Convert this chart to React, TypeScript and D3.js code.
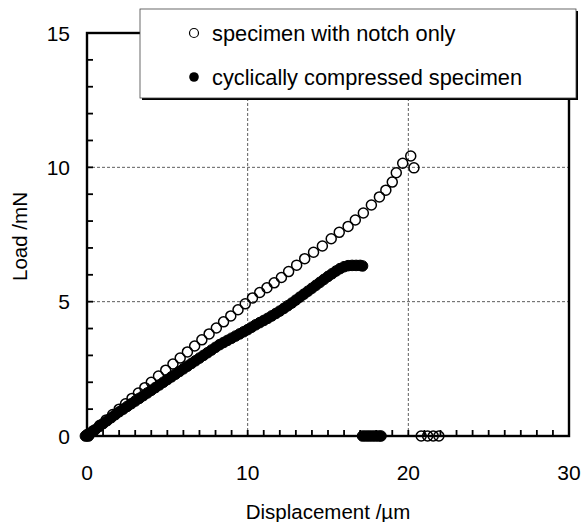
import React from "react";
import * as d3 from "d3";

// ---- data ----
const notchX = [0, 0.4, 0.8, 1.2, 1.6, 2.0, 2.4, 2.8, 3.2, 3.6, 4.0, 4.45, 4.9, 5.35, 5.8, 6.25, 6.7, 7.15, 7.6, 8.05, 8.5, 8.95, 9.4, 9.85, 10.3, 10.75, 11.2, 11.65, 12.1, 12.55, 13.05, 13.55, 14.1, 14.65, 15.2, 15.7, 16.25, 16.7, 17.2, 17.7, 18.2, 18.6, 19.0, 19.25, 19.65, 20.15, 20.35, 20.8, 21.2, 21.55, 21.9];
const notchY = [0, 0.2, 0.4, 0.6, 0.8, 1.0, 1.2, 1.4, 1.6, 1.8, 2.0, 2.23, 2.45, 2.68, 2.9, 3.13, 3.35, 3.58, 3.8, 4.02, 4.25, 4.47, 4.7, 4.92, 5.14, 5.34, 5.52, 5.7, 5.9, 6.12, 6.36, 6.6, 6.84, 7.07, 7.34, 7.58, 7.8, 8.04, 8.3, 8.6, 8.9, 9.15, 9.45, 9.8, 10.15, 10.42, 9.98, 0, 0, 0, 0];

const cycX = [-0.1, 0, 0.1, 0.25, 0.5, 0.75, 1.0, 1.25, 1.5, 1.75, 2.0, 2.25, 2.5, 2.75, 3.0, 3.25, 3.5, 3.75, 4.0, 4.25, 4.5, 4.75, 5.0, 5.25, 5.5, 5.75, 6.0, 6.25, 6.5, 6.75, 7.0, 7.25, 7.5, 7.75, 8.0, 8.25, 8.5, 8.75, 9.0, 9.25, 9.5, 9.75, 10.0, 10.25, 10.5, 10.75, 11.0, 11.25, 11.5, 11.75, 12.0, 12.25, 12.5, 12.75, 13.0, 13.25, 13.5, 13.75, 14.0, 14.25, 14.5, 14.75, 15.0, 15.25, 15.5, 15.75, 16.0, 16.25, 16.5, 16.75, 17.0, 17.15, 17.15, 17.35, 17.55, 17.75, 17.95, 18.15, 18.3];
const cycY = [0, 0.05, 0, 0.12, 0.23, 0.35, 0.46, 0.57, 0.68, 0.79, 0.9, 1.0, 1.1, 1.2, 1.3, 1.4, 1.5, 1.6, 1.7, 1.8, 1.9, 2.0, 2.1, 2.2, 2.3, 2.4, 2.5, 2.6, 2.7, 2.8, 2.9, 3.0, 3.1, 3.2, 3.3, 3.4, 3.48, 3.56, 3.64, 3.72, 3.8, 3.88, 3.96, 4.05, 4.14, 4.22, 4.3, 4.38, 4.47, 4.56, 4.65, 4.75, 4.85, 4.95, 5.06, 5.17, 5.28, 5.39, 5.5, 5.61, 5.72, 5.83, 5.94, 6.04, 6.14, 6.23, 6.3, 6.34, 6.35, 6.35, 6.35, 6.33, 0, 0, 0, 0, 0, 0, 0];

const xTicks = [0, 10, 20, 30];
const yTicks = [0, 5, 10, 15];
const legendLabels = ["specimen with notch only", "cyclically compressed specimen"];
const xTitle = "Displacement /\u00b5m";
const yTitle = "Load /mN";

const FONT = "'Liberation Sans', Arial, Helvetica, sans-serif";

export default function App() {
  const W = 585, H = 522;
  const L = 87, R = 569, T = 33, B = 436;
  const x = d3.scaleLinear().domain([0, 30]).range([L, R]);
  const y = d3.scaleLinear().domain([0, 15]).range([B, T]);
  const minorX = d3.range(0, 31, 1);
  const minorY = d3.range(0, 16, 1);
  const tick = 6;

  return (
    <svg width={W} height={H} viewBox={`0 0 ${W} ${H}`}
      style={{ position: "absolute", left: 0, top: 0, display: "block", background: "#fff" }}>
      {/* grid */}
      {[10, 20].map((v) => (
        <line key={"gx" + v} x1={x(v)} x2={x(v)} y1={T} y2={B} stroke="#333" strokeWidth={0.8} strokeDasharray="3,2" />
      ))}
      {[5, 10].map((v) => (
        <line key={"gy" + v} x1={L} x2={R} y1={y(v)} y2={y(v)} stroke="#333" strokeWidth={0.8} strokeDasharray="3,2" />
      ))}
      {/* minor ticks inward */}
      {minorX.map((v) => (
        <line key={"tx" + v} x1={x(v)} x2={x(v)} y1={B} y2={B - tick} stroke="#000" strokeWidth={1.8} />
      ))}
      {minorY.map((v) => (
        <line key={"ty" + v} x1={L} x2={L + tick} y1={y(v)} y2={y(v)} stroke="#000" strokeWidth={1.8} />
      ))}
      {/* frame */}
      <rect x={L} y={T} width={R - L} height={B - T} fill="none" stroke="#000" strokeWidth={2.4} />

      {/* filled series */}
      {cycX.map((v, i) => (
        <circle key={"c" + i} cx={x(v)} cy={y(cycY[i])} r={5.3} fill="#000" stroke="#000" strokeWidth={1} />
      ))}
      {/* open series */}
      {notchX.map((v, i) => (
        <circle key={"n" + i} cx={x(v)} cy={y(notchY[i])} r={5} fill="none" stroke="#000" strokeWidth={1.5} />
      ))}

      {/* tick labels */}
      {xTicks.map((v) => (
        <text key={"lx" + v} x={x(v)} y={480} textAnchor="middle" fontFamily={FONT} fontSize={21} fill="#000">{v}</text>
      ))}
      {yTicks.map((v) => (
        <text key={"ly" + v} x={70} y={y(v) + 7.5} textAnchor="end" fontFamily={FONT} fontSize={21} fill="#000">{v}</text>
      ))}
      {/* axis titles */}
      <text x={(L + R) / 2} y={519} textAnchor="middle" fontFamily={FONT} fontSize={20.5} fill="#000">{xTitle}</text>
      <text transform={`translate(27,${(T + B) / 2 + 2}) rotate(-90)`} textAnchor="middle" fontFamily={FONT} fontSize={20.5} fill="#000">{yTitle}</text>

      {/* legend */}
      <g>
        <rect x={142} y={11} width={436} height={89} fill="#000" />
        <rect x={140} y={9} width={436} height={89} fill="#fff" stroke="#444" strokeWidth={0.8} />
        <circle cx={194} cy={33} r={4.5} fill="none" stroke="#000" strokeWidth={1.2} />
        <text x={212} y={40.5} fontFamily={FONT} fontSize={21.8} fill="#000">{legendLabels[0]}</text>
        <circle cx={194} cy={77} r={4.8} fill="#000" />
        <text x={212} y={84.5} fontFamily={FONT} fontSize={21.8} fill="#000">{legendLabels[1]}</text>
      </g>
    </svg>
  );
}
